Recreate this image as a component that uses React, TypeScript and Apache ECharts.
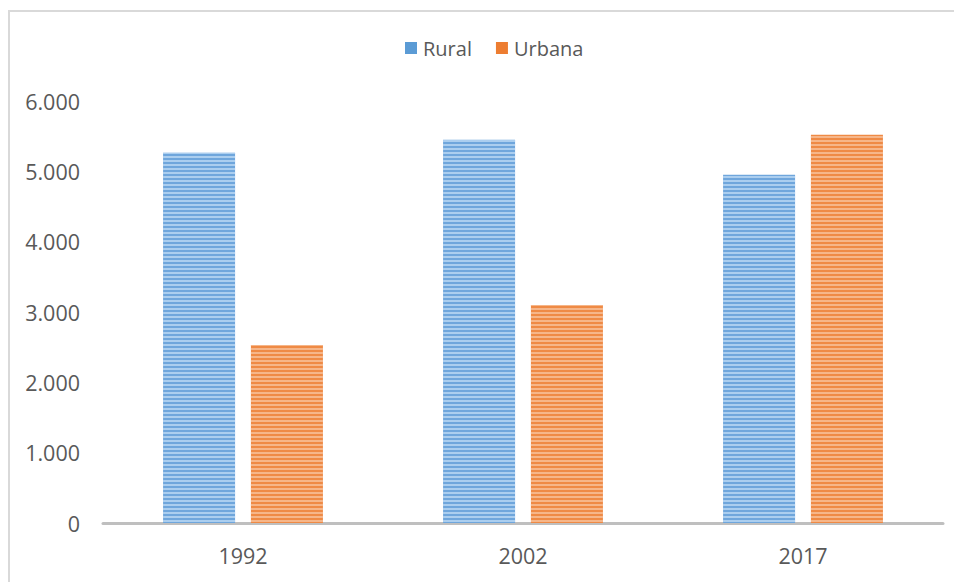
import React, { useEffect, useRef } from "react";
import * as echarts from "echarts";

const categories = ["1992", "2002", "2017"];
const ruralValues = [5265, 5450, 4950];
const urbanaValues = [2530, 3100, 5520];
const seriesNames = ["Rural", "Urbana"];

const FONT = "'Open Sans', sans-serif";

export default function App() {
  const ref = useRef<HTMLDivElement>(null);
  useEffect(() => {
    if (!ref.current) return;
    const chart = echarts.init(ref.current, undefined, { renderer: "svg" });
    const decalFor = (c: string) => ({
      symbol: "rect",
      symbolSize: 1,
      color: c,
      dashArrayX: [1, 0],
      dashArrayY: [2, 2],
      rotation: 0,
    });
    chart.setOption({
      animation: false,
      backgroundColor: "#ffffff",
      aria: { enabled: false, decal: { show: false } },
      legend: {
        top: 33,
        left: 400,
        itemWidth: 12,
        itemHeight: 12,
        itemGap: 24,
        icon: "rect",
        textStyle: { color: "#595959", fontSize: 20, fontFamily: FONT, padding: [0, 0, 0, 1] },
        data: [
          { name: seriesNames[0], itemStyle: { color: "#5b9bd5", decal: "none" } },
          { name: seriesNames[1], itemStyle: { color: "#ed7d31", decal: "none" } },
        ],
      },
      grid: { left: 103, right: 11, top: 101, bottom: 59, containLabel: false },
      xAxis: {
        type: "category",
        data: categories,
        axisLine: { show: true, lineStyle: { color: "#bfbfbf", width: 3 } },
        axisTick: { show: false },
        axisLabel: { color: "#595959", fontSize: 21.5, fontFamily: FONT, margin: 21 },
      },
      yAxis: {
        type: "value",
        min: 0,
        max: 6000,
        interval: 1000,
        splitLine: { show: false },
        axisLine: { show: false },
        axisTick: { show: false },
        axisLabel: {
          color: "#595959",
          fontSize: 21.5,
          fontFamily: FONT,
          margin: 23,
          formatter: (v: number) => v.toLocaleString("de-DE"),
        },
      },
      series: [
        {
          name: seriesNames[0],
          type: "bar",
          data: ruralValues,
          barWidth: 72,
          barGap: "22%",
          itemStyle: { color: "#6fa6dc", decal: decalFor("rgba(190,218,245,0.75)") },
        },
        {
          name: seriesNames[1],
          type: "bar",
          data: urbanaValues,
          barWidth: 72,
          barGap: "22%",
          itemStyle: { color: "#ef8a45", decal: decalFor("rgba(248,196,160,0.75)") },
        },
      ],
      graphic: [
        { type: "rect", shape: { x: 8, y: 10, width: 2, height: 572 }, style: { fill: "#d9d9d9" }, silent: true },
        { type: "rect", shape: { x: 8, y: 10, width: 946, height: 2 }, style: { fill: "#d9d9d9" }, silent: true },
      ],
    });
    return () => chart.dispose();
  }, []);
  return (
    <div
      ref={ref}
      style={{ position: "absolute", left: 0, top: 0, width: 954, height: 582 }}
    />
  );
}
